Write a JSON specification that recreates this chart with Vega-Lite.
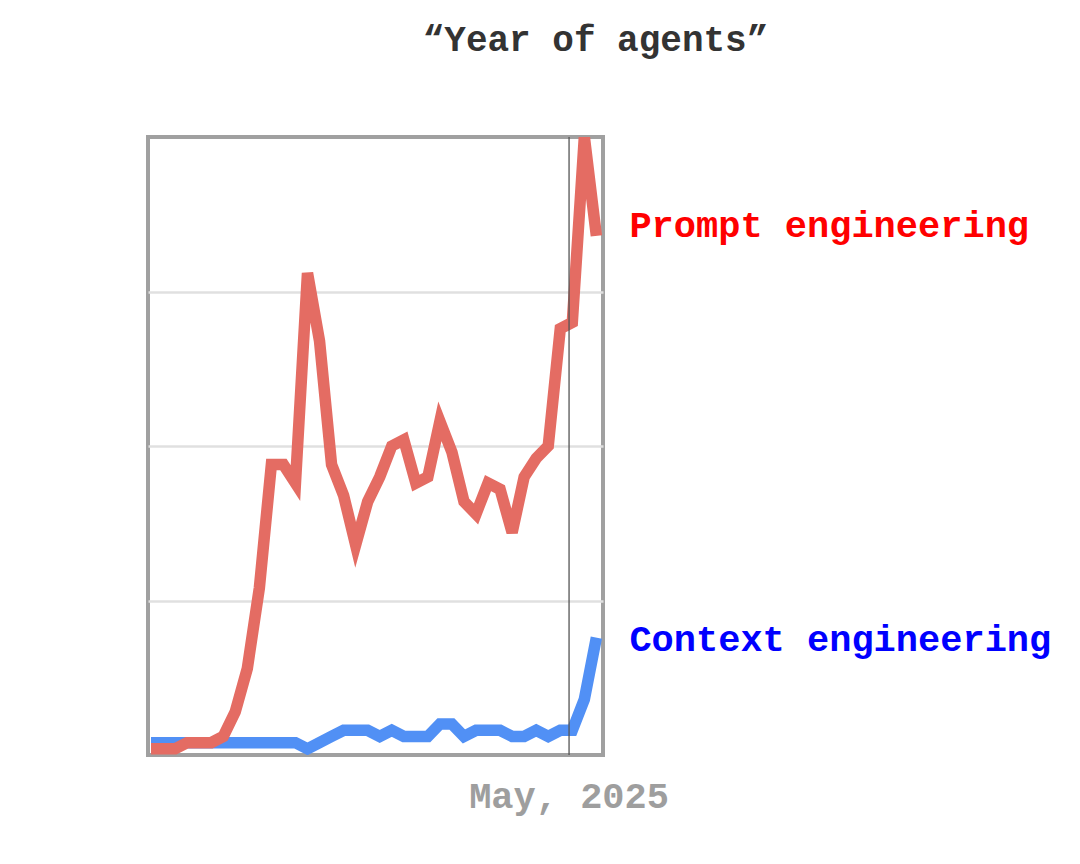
{
  "$schema": "https://vega.github.io/schema/vega-lite/v6.json",
  "width": 455,
  "height": 618,
  "autosize": {"type": "none"},
  "padding": {"left": 148, "top": 137, "right": 477, "bottom": 109},
  "background": "white",
  "title": {
    "text": "“Year of agents”",
    "font": "Liberation Mono",
    "fontSize": 36,
    "fontWeight": "bold",
    "color": "#333333",
    "anchor": "middle",
    "frame": "group",
    "dx": 220,
    "offset": 49,
    "baseline": "alphabetic"
  },
  "config": {
    "view": {"stroke": "#a0a0a0", "strokeWidth": 4, "fill": "white"},
    "axisY": {"grid": true, "gridColor": "#e0e0e0", "gridWidth": 2.5, "labels": false, "ticks": false, "domain": false, "title": null}
  },
  "datasets": {
    "trends": [
      {"t": 0, "prompt": 1, "context": 2},
      {"t": 1, "prompt": 1, "context": 2},
      {"t": 2, "prompt": 1, "context": 2},
      {"t": 3, "prompt": 2, "context": 2},
      {"t": 4, "prompt": 2, "context": 2},
      {"t": 5, "prompt": 2, "context": 2},
      {"t": 6, "prompt": 3, "context": 2},
      {"t": 7, "prompt": 7, "context": 2},
      {"t": 8, "prompt": 14, "context": 2},
      {"t": 9, "prompt": 27, "context": 2},
      {"t": 10, "prompt": 47, "context": 2},
      {"t": 11, "prompt": 47, "context": 2},
      {"t": 12, "prompt": 44, "context": 2},
      {"t": 13, "prompt": 78, "context": 1},
      {"t": 14, "prompt": 67, "context": 2},
      {"t": 15, "prompt": 47, "context": 3},
      {"t": 16, "prompt": 42, "context": 4},
      {"t": 17, "prompt": 34, "context": 4},
      {"t": 18, "prompt": 41, "context": 4},
      {"t": 19, "prompt": 45, "context": 3},
      {"t": 20, "prompt": 50, "context": 4},
      {"t": 21, "prompt": 51, "context": 3},
      {"t": 22, "prompt": 44, "context": 3},
      {"t": 23, "prompt": 45, "context": 3},
      {"t": 24, "prompt": 54, "context": 5},
      {"t": 25, "prompt": 49, "context": 5},
      {"t": 26, "prompt": 41, "context": 3},
      {"t": 27, "prompt": 39, "context": 4},
      {"t": 28, "prompt": 44, "context": 4},
      {"t": 29, "prompt": 43, "context": 4},
      {"t": 30, "prompt": 36, "context": 3},
      {"t": 31, "prompt": 45, "context": 3},
      {"t": 32, "prompt": 48, "context": 4},
      {"t": 33, "prompt": 50, "context": 3},
      {"t": 34, "prompt": 69, "context": 4},
      {"t": 35, "prompt": 70, "context": 4},
      {"t": 36, "prompt": 100, "context": 9},
      {"t": 37, "prompt": 84, "context": 19}
    ],
    "marker": [{"t": 34.73, "label": "May, 2025"}]
  },
  "encoding": {
    "x": {"field": "t", "type": "quantitative", "scale": {"domain": [-0.25, 37.55], "nice": false, "zero": false}, "axis": null}
  },
  "layer": [
    {
      "data": {"name": "trends"},
      "mark": {"type": "line", "color": "#5190f5", "strokeWidth": 11.5, "clip": true},
      "encoding": {
        "y": {"field": "context", "type": "quantitative", "scale": {"domain": [0, 100], "nice": false}, "axis": {"values": [25, 50, 75]}}
      }
    },
    {
      "data": {"name": "trends"},
      "mark": {"type": "line", "color": "#e46c63", "strokeWidth": 11.5, "clip": true},
      "encoding": {
        "y": {"field": "prompt", "type": "quantitative", "scale": {"domain": [0, 100], "nice": false}, "axis": {"values": [25, 50, 75]}}
      }
    },
    {
      "data": {"name": "trends"},
      "transform": [{"filter": "datum.t == 37"}],
      "mark": {"type": "text", "align": "left", "baseline": "middle", "dx": 33, "dy": -10, "font": "Liberation Mono", "fontSize": 37, "fontWeight": "bold", "color": "#ff0000"},
      "encoding": {
        "y": {"field": "prompt", "type": "quantitative", "scale": {"domain": [0, 100], "nice": false}, "axis": {"values": [25, 50, 75]}},
        "text": {"value": "Prompt engineering"}
      }
    },
    {
      "data": {"name": "trends"},
      "transform": [{"filter": "datum.t == 37"}],
      "mark": {"type": "text", "align": "left", "baseline": "middle", "dx": 33, "dy": 2, "font": "Liberation Mono", "fontSize": 37, "fontWeight": "bold", "color": "#0000ff"},
      "encoding": {
        "y": {"field": "context", "type": "quantitative", "scale": {"domain": [0, 100], "nice": false}, "axis": {"values": [25, 50, 75]}},
        "text": {"value": "Context engineering"}
      }
    },
    {
      "data": {"name": "marker"},
      "mark": {"type": "rule", "color": "#555555", "strokeWidth": 1.3},
      "encoding": {}
    },
    {
      "data": {"name": "marker"},
      "mark": {"type": "text", "align": "center", "baseline": "alphabetic", "dy": 53, "font": "Liberation Mono", "fontSize": 37, "fontWeight": "bold", "color": "#9e9e9e"},
      "encoding": {
        "y": {"datum": 0, "type": "quantitative", "scale": {"domain": [0, 100], "nice": false}, "axis": {"values": [25, 50, 75]}},
        "text": {"field": "label"}
      }
    }
  ]
}
